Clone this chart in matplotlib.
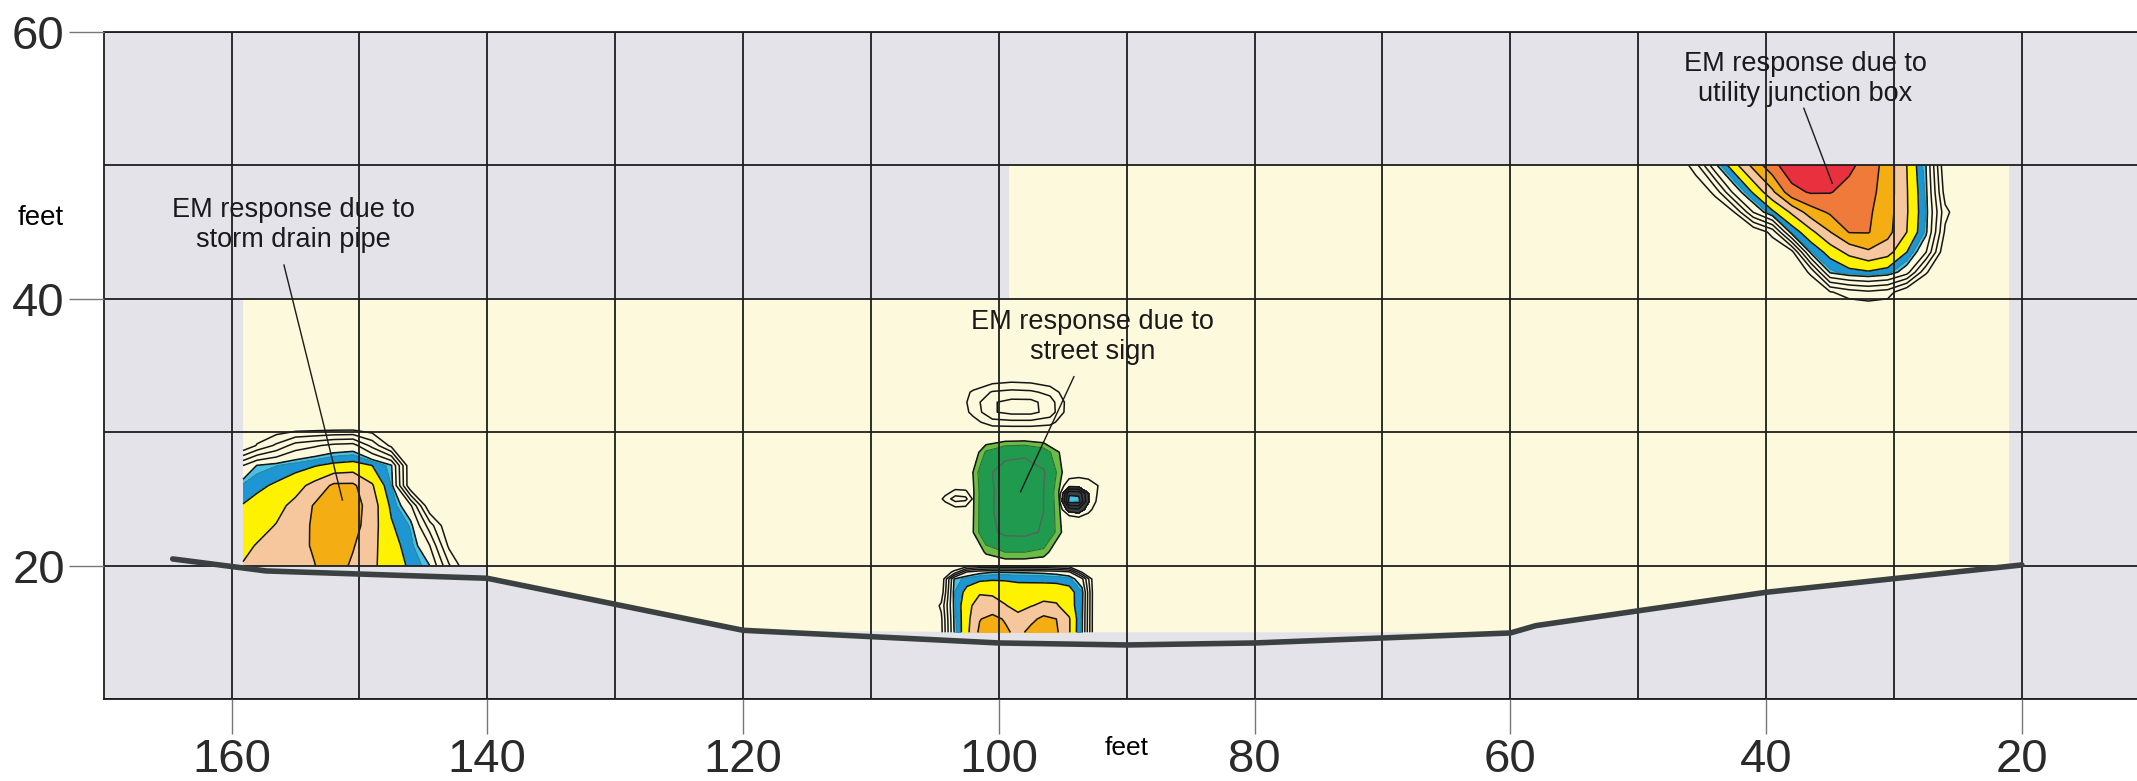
import numpy as np
import matplotlib
matplotlib.use("Agg")
import matplotlib.pyplot as plt

plt.rcParams['font.family'] = ['Liberation Sans', 'DejaVu Sans']

# edge of pavement line (x feet, y feet)
road_x = [164.6, 157.3, 140, 120, 100, 90, 80, 60, 58, 40, 20]
road_y = [20.5, 19.6, 19.05, 15.15, 14.2, 14.05, 14.2, 14.95, 15.5, 18.0, 20.05]

# surveyed area: left edge, step in top edge, right edge
survey_x = [159.1, 99.2, 21.0]
survey_top = [40, 50]
survey_floor = 15
pipe_floor_x = 140  # west of this the data stop at y = 20

# storm drain pipe anomaly (EM response, contour units)
sd_x = [159.1, 158, 156.5, 155, 153.5, 152, 150.5, 149, 147.5, 146, 144.5, 143, 141.5, 140]
sd_y = [20, 21.5, 23, 24.5, 26, 27.5, 29, 30.5, 32]
sd_z = [
    [7.05, 7.26, 7.5, 7.74, 7.98, 8.5, 7.83, 7.17, 6.52, 5.83, 5.0, 2.14, 0, 0],
    [6.8, 7.05, 7.39, 7.73, 8.1, 8.45, 8.08, 7.25, 6.39, 5.57, 4.01, 0.78, 0, 0],
    [6.43, 6.7, 7.04, 7.57, 8.15, 8.6, 8.4, 7.42, 6.11, 5.27, 2.5, 0, 0, 0],
    [6.05, 6.37, 6.73, 7.25, 8.1, 8.6, 8.45, 7.53, 5.8, 4.18, 0, 0, 0, 0],
    [5.46, 5.77, 6.16, 6.65, 7.31, 8.2, 8.2, 7.11, 5.33, 0, 0, 0, 0, 0],
    [4.0, 5.05, 5.33, 5.63, 5.94, 6.25, 6.4, 6.0, 5.09, 0, 0, 0, 0, 0],
    [0, 1.1, 2.2, 3.46, 3.86, 4.29, 4.43, 2.67, 0.7, 0, 0, 0, 0, 0],
    [0] * 14,
    [0] * 14,
]

# utility junction box anomaly
jb_x = [47, 45.5, 44, 42.5, 41, 39.5, 38, 36.5, 35, 33.5, 32, 30.5, 29, 27.5, 26, 24.5]
jb_y = [39, 40.5, 42, 43.5, 45, 46.5, 48, 50]
jb_z = [
    [0] * 16,
    [0, 0, 0, 0, 0, 0, 0, 0, 0.9, 1.5, 1.8, 1.5, 0, 0, 0, 0],
    [0, 0, 0, 0, 0, 0, 0, 1.2, 5.15, 5.7, 5.9, 5.6, 4.46, 1.1, 0, 0],
    [0, 0, 0, 0, 0, 0, 0.6, 5.26, 6.39, 7.3, 7.85, 7.4, 6.0, 4.04, 0, 0],
    [0, 0, 0, 0, 0, 1.36, 5.42, 6.73, 7.97, 9.05, 9.05, 8.33, 7.0, 5.2, 0.8, 0],
    [0, 0, 0, 1.0, 4.05, 5.82, 7.18, 8.53, 9.15, 9.3, 9.15, 8.44, 7.09, 5.31, 1.3, 0],
    [0, 0, 1.27, 4.34, 6.14, 7.8, 9.7, 10.1, 10.05, 9.7, 9.35, 8.5, 7.07, 5.22, 0.5, 0],
    [0, 1.58, 4.79, 6.63, 8.31, 9.7, 10.6, 10.9, 10.8, 10.2, 9.6, 8.54, 7.0, 5.0, 0, 0],
]

# anomaly below the street sign (next to the pavement)
lb_x = [105.5, 104.5, 103.5, 102.5, 101.5, 100.5, 99.5, 98.5, 97.5, 96.5, 95.5, 94.5, 93.5, 92.5, 91.5]
lb_y = [15.0, 16.0, 17.0, 18.0, 19.0, 19.5, 20.0]
lb_z = [
    [0, 0.7, 5.0, 6.75, 8.2, 8.4, 8.2, 7.7, 8.3, 8.4, 8.15, 7.1, 5.15, 0, 0],
    [0, 0.8, 5.1, 6.7, 7.95, 8.3, 7.9, 7.3, 7.75, 8.25, 8.0, 7.1, 5.2, 0, 0],
    [0, 1.2, 5.2, 6.7, 7.45, 7.4, 7.05, 6.7, 6.95, 7.2, 7.1, 6.5, 5.3, 0, 0],
    [0, 0.3, 5.3, 6.3, 6.9, 6.85, 6.6, 6.4, 6.5, 6.6, 6.6, 6.4, 5.4, 0, 0],
    [0, 0, 5.0, 5.6, 5.8, 5.9, 5.9, 5.85, 5.8, 5.75, 5.7, 5.55, 4.3, 0, 0],
    [0, 0, 1.3, 4.2, 4.8, 5.0, 5.0, 4.95, 4.9, 4.85, 4.7, 4.3, 1.0, 0, 0],
    [0, 0, 0, 0.3, 0.7, 0.9, 0.9, 0.8, 0.8, 0.7, 0.5, 0.3, 0, 0, 0],
]

# rings above the street sign
ra_x = [103.5, 102, 100.5, 99, 97.5, 96, 94.5]
ra_y = [30.0, 30.75, 31.5, 32.25, 33.0, 33.75, 34.5]
ra_z = [
    [0] * 7,
    [0, 0.6, 1.6, 1.7, 1.7, 1.4, 0],
    [0, 1.3, 2.9, 3.3, 3.3, 2.6, 0.4],
    [0, 1.5, 2.9, 3.3, 3.3, 2.5, 0.5],
    [0, 1.2, 2.1, 2.3, 2.2, 1.7, 0.2],
    [0, 0.2, 0.8, 1.0, 0.9, 0.5, 0],
    [0] * 7,
]

# small blobs either side of the sign
sl_x = [105, 104.2, 103.4, 102.6, 101.8]
sl_y = [23.8, 24.4, 25.0, 25.6, 26.2]
sl_z = [
    [0] * 5,
    [0, 0.3, 1.0, 0.9, 0],
    [0, 1.4, 2.5, 2.3, 0.3],
    [0, 0.4, 1.2, 1.1, 0],
    [0] * 5,
]

sr_x = [96, 95.25, 94.5, 93.75, 93, 92.25, 91.5]
sr_y = [23.0, 23.6, 24.2, 24.8, 25.4, 26.0, 26.6, 27.2]
sr_z = [
    [0] * 7,
    [0, 0, 0.5, 0.9, 0.5, 0, 0],
    [0, 0.4, 2.6, 2.8, 1.4, 0.3, 0],
    [0, 0.9, 5.3, 5.4, 2.1, 0.7, 0],
    [0, 0.7, 4.9, 4.8, 2.0, 0.9, 0],
    [0, 0.5, 1.6, 1.5, 1.4, 1.0, 0],
    [0, 0.2, 0.9, 1.0, 0.9, 0.4, 0],
    [0] * 7,
]

# street sign (negative response)
gb_x = [104, 102.5, 101, 99.5, 98, 96.5, 95, 93.5]
gb_y = [19.5, 21, 22.5, 24, 25.5, 27, 28.5, 30]
gb_z = [
    [0] * 8,
    [0, 0, -1.1, -1.5, -1.5, -1.3, -0.2, 0],
    [0, -0.4, -2.2, -2.7, -2.75, -2.4, -0.9, 0],
    [0, -0.35, -2.2, -2.95, -3.0, -2.5, -0.75, 0],
    [0, -0.3, -2.2, -2.9, -3.0, -2.5, -0.6, 0],
    [0, -0.4, -2.3, -2.9, -3.0, -2.6, -0.95, 0],
    [0, 0, -1.6, -2.2, -2.3, -1.9, -0.8, 0],
    [0] * 8,
]

notes = ["EM response due to\nstorm drain pipe",
         "EM response due to\nstreet sign",
         "EM response due to\nutility junction box"]
note_x = [155.16, 92.7, 36.96]
note_y = [45.53, 37.1, 56.5]
ptr_x = [[155.9, 151.33], [94.13, 98.3], [37.05, 34.83]]
ptr_y = [[42.53, 24.92], [34.16, 25.54], [54.28, 48.66]]

pos_levels = [5, 5.35, 6, 7, 8, 9, 10, 20]
pos_colors = ['#4cc0e4', '#1d96d3', '#fff200', '#f6c69c', '#f4ae14', '#ef7a3a', '#e9303e']
line_levels = [1, 2, 3, 4, 5, 6, 7, 8, 9, 10]

fig = plt.figure(figsize=(21.37, 7.81), dpi=100)
ax = fig.add_axes([0.0485, 0.105, 0.9515, 0.854])
ax.set_facecolor('#e3e3e9')

# surveyed area in pale yellow
rx = np.array(road_x)
ry = np.maximum(np.array(road_y), survey_floor)
inside = (rx <= pipe_floor_x) & (rx > survey_x[2])
poly = [(survey_x[0], survey_top[0]), (survey_x[1], survey_top[0]),
        (survey_x[1], survey_top[1]), (survey_x[2], survey_top[1]),
        (survey_x[2], np.interp(survey_x[2], rx[::-1], ry[::-1]))]
poly += list(zip(rx[inside][::-1], ry[inside][::-1]))
poly += [(pipe_floor_x, 20), (survey_x[0], 20)]
ax.add_patch(plt.Polygon(poly, closed=True, facecolor='#fcf9dc', edgecolor='none', zorder=1))

for x, y, z in [(sd_x, sd_y, sd_z), (jb_x, jb_y, jb_z), (lb_x, lb_y, lb_z),
                (ra_x, ra_y, ra_z), (sl_x, sl_y, sl_z), (sr_x, sr_y, sr_z)]:
    z = np.array(z)
    if z.max() > 5:
        ax.contourf(x, y, z, levels=pos_levels, colors=pos_colors, zorder=2)
        ax.contour(x, y, z, levels=[5.35], colors='#2b8c96', linewidths=0.8, zorder=2.1)
    lv = [l for l in line_levels if l < z.max()]
    ax.contour(x, y, z, levels=lv, colors='#151515', linewidths=1.1, zorder=2.2)

# dark packed rings round the small spike east of the sign
ax.contourf(sr_x, sr_y, np.array(sr_z), levels=[1.9, 5], colors=['#3c4146'], zorder=2)

gz = np.array(gb_z)
ax.contourf(gb_x, gb_y, gz, levels=[-10, -1.5, -1], colors=['#1f9a4f', '#6bbb45'], zorder=2)
ax.contour(gb_x, gb_y, gz, levels=[-1.5], colors='#2c6e36', linewidths=0.8,
           linestyles='solid', zorder=2.1)
ax.contour(gb_x, gb_y, gz, levels=[-2.5], colors='#56645c', linewidths=1.0,
           linestyles='solid', zorder=2.1)
ax.contour(gb_x, gb_y, gz, levels=[-1], colors='#151515', linewidths=1.1,
           linestyles='solid', zorder=2.2)

ax.plot(road_x, road_y, color='#3b4141', lw=4, solid_capstyle='round', zorder=4)

for t, tx, ty, px, py in zip(notes, note_x, note_y, ptr_x, ptr_y):
    ax.plot(px, py, color='#1a1a1a', lw=1.0, zorder=5)
    ax.text(tx, ty, t, ha='center', va='center', fontsize=19.5, color='#1a1a1a', zorder=6)

ax.set_xlim(170, 11)
ax.set_ylim(10, 60)
ax.set_xticks(np.arange(20, 161, 20))
ax.set_xticks(np.arange(20, 170, 10), minor=True)
ax.set_yticks([20, 40, 60])
ax.set_yticks(np.arange(10, 61, 10), minor=True)
ax.tick_params(which='major', length=25, width=1, color='#777777',
               labelcolor='#2a2a2a', labelsize=34, pad=3)
ax.tick_params(which='minor', length=0)
ax.set_axisbelow(False)
ax.grid(which='both', color='#1e1e1e', lw=1.3)
for s in ['left', 'top', 'bottom']:
    ax.spines[s].set_color('#1e1e1e')
    ax.spines[s].set_linewidth(1.3)
ax.spines['right'].set_visible(False)

ax.set_ylabel('feet', rotation=0, fontsize=20, va='center', ha='center')
ax.yaxis.set_label_coords(-0.0308, 0.721)
ax.set_xlabel('feet', fontsize=19, va='center')
ax.xaxis.set_label_coords(0.5033, -0.0735)

fig.savefig('out.png', dpi=100)
